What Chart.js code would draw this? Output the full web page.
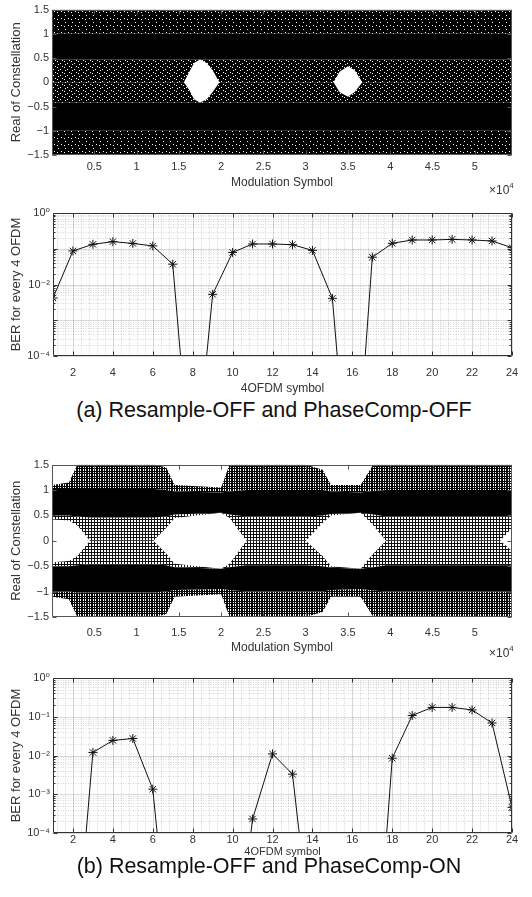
<!DOCTYPE html>
<html><head><meta charset="utf-8">
<script src="https://cdn.jsdelivr.net/npm/chart.js@4.4.0/dist/chart.umd.min.js"></script>
<style>
html,body{margin:0;padding:0;background:#fff;}
#fig{position:relative;width:532px;height:897px;overflow:hidden;font-family:"Liberation Sans",Arial,sans-serif;background:#fff;}
canvas{position:absolute;left:0;}
.cap{position:absolute;left:0;text-align:center;font-size:21.5px;color:#111;line-height:24px;white-space:nowrap;}
.mult{position:absolute;font-size:12px;line-height:12px;color:#333;white-space:nowrap;}
.mult sup{font-size:8px;position:relative;top:-1px;}
</style></head>
<body><div id="fig">
<canvas id="cA1" width="532" height="190" style="top:0px"></canvas>
<canvas id="cA2" width="532" height="201" style="top:195px"></canvas>
<canvas id="cB1" width="532" height="200" style="top:455px"></canvas>
<canvas id="cB2" width="532" height="194" style="top:665px"></canvas>
<div class="mult" style="left:489px;top:181px">×10<sup>4</sup></div>
<div class="mult" style="left:489px;top:644px">×10<sup>4</sup></div>
<div class="cap" style="top:398px;width:548px">(a) Resample-OFF and PhaseComp-OFF</div>
<div class="cap" style="top:854px;width:538px">(b) Resample-OFF and PhaseComp-ON</div>
</div>
<script>
// ---------- DATA ----------
// BER per 4-OFDM-symbol block
const ofdmBlock = [1,2,3,4,5,6,7,8,9,10,11,12,13,14,15,16,17,18,19,20,21,22,23,24];
const berA = [0.0042,0.087,0.133,0.158,0.141,0.12,0.037,1e-8,0.0053,0.079,0.136,0.136,0.13,0.09,0.0041,1e-9,0.058,0.142,0.176,0.176,0.183,0.176,0.165,0.107];
const berB = [1e-8,1e-8,0.012,0.0245,0.0275,0.00135,1e-8,1e-8,1e-8,1e-8,0.00023,0.011,0.0033,1e-7,1e-8,1e-8,1e-9,0.0085,0.108,0.174,0.174,0.15,0.069,0.00046];
const berTicksA = [1e-4,1e-2,1];
const berTicksB = [1e-4,1e-3,1e-2,1e-1,1];
const blockTicks = [2,4,6,8,10,12,14,16,18,20,22,24];

// Constellation (real part) envelopes, modulation symbol in units of 1e4
const symTicks = [0.5,1,1.5,2,2.5,3,3.5,4,4.5,5];
const realTicks = [-1.5,-1,-0.5,0,0.5,1,1.5];

// (a) PhaseComp-OFF
const symA        = [0, 1.56, 1.62, 1.68, 1.75, 1.83, 1.9, 1.98, 3.33, 3.4, 3.5, 3.58, 3.67, 5.44];
const outerTopA   = [1.5,1.5,1.5,1.5,1.5,1.5,1.5,1.5,1.5,1.5,1.5,1.5,1.5,1.5];
const bandTopA    = [1.0,1.0,1.0,1.0,1.0,1.0,1.0,1.0,1.0,1.0,1.0,1.0,1.0,1.0];
const bandBotA    = [0.47,0.47,0.47,0.47,0.47,0.47,0.47,0.47,0.47,0.47,0.47,0.47,0.47,0.47];
const holeTopA    = [0, 0, 0.2, 0.4, 0.47, 0.4, 0.25, 0, 0, 0.22, 0.33, 0.25, 0, 0];
const holeBotA    = [0, 0, -0.15, -0.35, -0.42, -0.35, -0.2, 0, 0, -0.2, -0.3, -0.2, 0, 0];
const lowBandTopA = [-0.42,-0.42,-0.42,-0.42,-0.42,-0.42,-0.42,-0.42,-0.42,-0.42,-0.42,-0.42,-0.42,-0.42];
const lowBandBotA = [-1.0,-1.0,-1.0,-1.0,-1.0,-1.0,-1.0,-1.0,-1.0,-1.0,-1.0,-1.0,-1.0,-1.0];
const outerBotA   = [-1.5,-1.5,-1.5,-1.5,-1.5,-1.5,-1.5,-1.5,-1.5,-1.5,-1.5,-1.5,-1.5,-1.5];

// (b) PhaseComp-ON
const symB        = [0, 0.2, 0.3, 0.45, 1.2, 1.35, 1.45, 2.0, 2.1, 2.3, 3.0, 3.2, 3.3, 3.65, 3.8, 3.95, 5.3, 5.44];
const outerTopB   = [1.1, 1.15, 1.5, 1.5, 1.5, 1.45, 1.1, 1.05, 1.5, 1.5, 1.5, 1.4, 1.1, 1.1, 1.5, 1.5, 1.5, 1.5];
const bandTopB    = [1.02, 1.02, 1.02, 1.02, 1.02, 1.0, 0.97, 0.95, 0.97, 1.0, 1.0, 1.0, 0.97, 0.95, 0.98, 1.0, 1.0, 1.0];
const bandBotB    = [0.5, 0.5, 0.48, 0.46, 0.46, 0.48, 0.52, 0.55, 0.52, 0.48, 0.48, 0.5, 0.53, 0.55, 0.52, 0.48, 0.48, 0.48];
const midTopB     = [0.42, 0.4, 0.3, 0.0, 0.0, 0.25, 0.45, 0.55, 0.45, 0.0, 0.0, 0.35, 0.5, 0.55, 0.3, 0.0, 0.0, 0.25];
const midBotB     = [-0.42, -0.4, -0.3, 0.0, 0.0, -0.25, -0.45, -0.55, -0.45, 0.0, 0.0, -0.3, -0.5, -0.55, -0.25, 0.0, 0.0, -0.2];
const lowBandTopB = [-0.5, -0.5, -0.48, -0.46, -0.46, -0.48, -0.52, -0.55, -0.52, -0.48, -0.48, -0.5, -0.53, -0.55, -0.52, -0.48, -0.48, -0.48];
const lowBandBotB = [-1.0, -1.0, -1.02, -1.02, -1.02, -1.0, -0.97, -0.95, -0.97, -1.0, -1.0, -1.0, -0.97, -0.95, -0.98, -1.0, -1.0, -1.0];
const outerBotB   = [-1.1, -1.15, -1.5, -1.5, -1.5, -1.45, -1.1, -1.05, -1.5, -1.5, -1.5, -1.4, -1.1, -1.1, -1.5, -1.5, -1.5, -1.5];

// ---------- RENDERING ----------
const FONT = '"Liberation Sans", Arial, "DejaVu Sans", sans-serif';
Chart.defaults.font.family = FONT;
Chart.defaults.color = '#333';

function makePattern(w, h, draw){
  const c = document.createElement('canvas'); c.width = w; c.height = h;
  const g = c.getContext('2d'); draw(g);
  return document.createElement('canvas').getContext('2d').createPattern(c, 'repeat');
}
// nearly solid black with sparse white specks (overlapping "+" markers)
const patDense = makePattern(7, 7, g => { g.fillStyle='#000'; g.fillRect(0,0,7,7); g.clearRect(2,1,1,1); g.clearRect(5,4,1,1); g.clearRect(1,5,1,1); });
const patDenseMid = makePattern(7, 6, g => { g.fillStyle='#000'; g.fillRect(0,0,7,6); g.clearRect(1,1,1,1); g.clearRect(4,3,1,1); g.clearRect(6,0,1,1); g.clearRect(2,4,1,1); });
// overlapping "+" mesh
const patMeshDark = makePattern(5, 5, g => { g.fillStyle='#050505'; g.fillRect(0,1,5,1); g.fillRect(0,3,5,1); g.fillRect(1,0,1,5); g.fillRect(2,0,1,5); g.fillRect(4,0,1,5); });
const patMesh = makePattern(6, 6, g => { g.fillStyle='#111'; g.fillRect(0,1,6,1); g.fillRect(0,4,6,1); g.fillRect(1,0,1,6); g.fillRect(4,0,1,6); });

const axesCfg = {};
const matlabAxes = {
  id: 'matlabAxes',
  beforeDatasetsDraw(chart){
    const o = axesCfg[chart.canvas.id]; if (!o || !o.grid) return;
    const {ctx, chartArea:a, scales:{x, y}} = chart;
    ctx.save(); ctx.lineWidth = 1;
    const vline = v => { const p = Math.round(x.getPixelForValue(v)) + 0.5; ctx.beginPath(); ctx.moveTo(p, a.top); ctx.lineTo(p, a.bottom); ctx.stroke(); };
    const hline = v => { const p = Math.round(y.getPixelForValue(v)) + 0.5; ctx.beginPath(); ctx.moveTo(a.left, p); ctx.lineTo(a.right, p); ctx.stroke(); };
    ctx.setLineDash([1, 1.5]); ctx.strokeStyle = 'rgba(0,0,0,0.16)';
    o.xMinor.forEach(vline); o.yMinor.forEach(hline);
    ctx.setLineDash([]); ctx.strokeStyle = 'rgba(0,0,0,0.15)';
    o.xMajor.forEach(vline); o.yGrid.forEach(hline);
    ctx.restore();
  },
  afterDatasetsDraw(chart){
    const o = axesCfg[chart.canvas.id]; if (!o) return;
    const {ctx, chartArea:a, scales:{x, y}} = chart;
    ctx.save(); ctx.strokeStyle = o.box; ctx.lineWidth = 1;
    const L = Math.round(a.left) + 0.5, R = Math.round(a.right) - 0.5, T = Math.round(a.top) + 0.5, B = Math.round(a.bottom) - 0.5;
    ctx.beginPath(); ctx.rect(L, T, R - L, B - T); ctx.stroke();
    ctx.beginPath();
    o.xMajor.forEach(v => { const p = Math.round(x.getPixelForValue(v)) + 0.5; ctx.moveTo(p, B); ctx.lineTo(p, B - 4); ctx.moveTo(p, T); ctx.lineTo(p, T + 4); });
    o.yGrid.forEach(v => { const p = Math.round(y.getPixelForValue(v)) + 0.5; ctx.moveTo(L, p); ctx.lineTo(L + 4, p); ctx.moveTo(R, p); ctx.lineTo(R - 4, p); });
    (o.yMinor || []).forEach(v => { const p = Math.round(y.getPixelForValue(v)) + 0.5; ctx.moveTo(L, p); ctx.lineTo(L + 2, p); ctx.moveTo(R, p); ctx.lineTo(R - 2, p); });
    ctx.stroke(); ctx.restore();
  }
};
Chart.register(matlabAxes);

function baseOptions(c){
  return {
    responsive:false, animation:false, devicePixelRatio:1,
    layout:{padding:{top:c.padTop, right:20, left:0, bottom:0}},
    plugins:{legend:{display:false}, tooltip:{enabled:false}},
    elements:{line:{tension:0}},
    scales:{
      x:{type:'linear', min:c.xMin, max:c.xMax,
         grid:{display:false, drawTicks:false}, border:{display:false},
         afterBuildTicks: s => { s.ticks = c.xTicks.map(v => ({value:v})); },
         afterFit: s => { s.height = c.bottomH; },
         ticks:{padding:c.xPad, color:'#333', font:{size:11}, maxRotation:0, autoSkip:false, callback: v => String(v)},
         title:{display:true, text:c.xTitle, color:'#333', font:{size:c.xTitleSize || 12}, padding:{top:0, bottom:0}}},
      y:{type:c.yType, min:c.yMin, max:c.yMax,
         grid:{display:false, drawTicks:false}, border:{display:false},
         afterBuildTicks: s => { s.ticks = c.yTicks.map(v => ({value:v})); },
         afterFit: s => { s.width = c.leftW; },
         ticks:{padding:3, color:'#333', font:{size:11}, autoSkip:false, callback:c.yFmt},
         title:{display:true, text:c.yTitle, color:'#333', font:{size:13}, padding:{top:9, bottom:0}}}
    }
  };
}

const sup = {'-':'⁻','0':'⁰','1':'¹','2':'²','3':'³','4':'⁴'};
const expFmt = v => '10' + String(Math.round(Math.log10(v))).split('').map(ch => sup[ch]).join('');
const realFmt = v => String(v).replace('-', '−');

function constellation(id, xs, layers, patOuter, patMid, c){
  const fills = [null, patOuter, '#000', patMid, null, patMid, '#000', patOuter];
  const datasets = layers.map((arr, i) => ({
    data: xs.map((x, j) => ({x, y: arr[j]})),
    borderColor:'rgba(0,0,0,0)', borderWidth:0, pointRadius:0,
    fill: fills[i] ? '-1' : false,
    backgroundColor: fills[i] || 'rgba(0,0,0,0)'
  }));
  axesCfg[id] = {grid:false, box:'#555', xMajor:symTicks, yGrid:realTicks};
  new Chart(document.getElementById(id), {type:'line', data:{datasets}, options: baseOptions(Object.assign({
    xMin:0, xMax:5.44, xTicks:symTicks, xTitle:'Modulation Symbol',
    yType:'linear', yMin:-1.5, yMax:1.5, yTicks:realTicks, yFmt:realFmt, yTitle:'Real of Constellation'
  }, c))});
}

function berChart(id, values, yTicks, c){
  const xMinor = []; for (let k = 1; k <= 58; k++){ const v = 0.4 * k; if (v > 1 && v < 24 && Math.abs(v/2 - Math.round(v/2)) > 1e-6) xMinor.push(+v.toFixed(2)); }
  const yGrid = [1e-4,1e-3,1e-2,1e-1,1];
  const yMinor = []; for (let e = -4; e < 0; e++) for (let m = 2; m <= 9; m++) yMinor.push(m * Math.pow(10, e));
  axesCfg[id] = {grid:true, box:'#333', xMajor:blockTicks, xMinor, yGrid, yMinor};
  new Chart(document.getElementById(id), {type:'line', data:{datasets:[{
    data: ofdmBlock.map((x, i) => ({x, y: values[i]})),
    borderColor:'#111', borderWidth:1, fill:false,
    pointStyle:'star', pointRadius:4.5, pointBorderColor:'#111', pointBorderWidth:1, pointBackgroundColor:'rgba(0,0,0,0)'
  }]}, options: baseOptions(Object.assign({
    xMin:1, xMax:24, xTicks:blockTicks, xTitle:'4OFDM symbol',
    yType:'logarithmic', yMin:1e-4, yMax:1, yTicks, yFmt:expFmt, yTitle:'BER for every 4 OFDM'
  }, c))});
}

constellation('cA1', symA, [outerTopA, bandTopA, bandBotA, holeTopA, holeBotA, lowBandTopA, lowBandBotA, outerBotA], patDense, patDenseMid,
  {padTop:5, bottomH:35, xPad:5, leftW:52});
berChart('cA2', berA, berTicksA, {padTop:18, bottomH:40, xPad:10, leftW:53});
constellation('cB1', symB, [outerTopB, bandTopB, bandBotB, midTopB, midBotB, lowBandTopB, lowBandBotB, outerBotB], patMeshDark, patMesh,
  {padTop:8, bottomH:38, xPad:9, leftW:52});
berChart('cB2', berB, berTicksB, {padTop:13, bottomH:26, xPad:0, leftW:53, xTitleSize:11});
</script>
</body></html>
